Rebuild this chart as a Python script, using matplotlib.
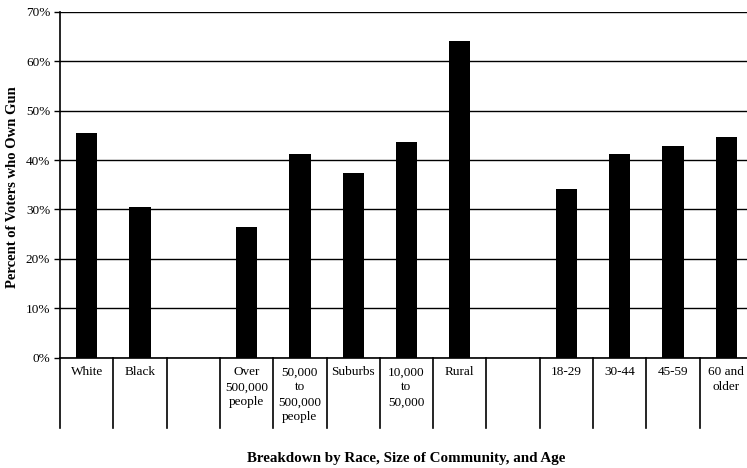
import numpy as np
import matplotlib
matplotlib.use('Agg')
import matplotlib.pyplot as plt
import matplotlib.transforms as mtransforms

plt.rcParams['font.family'] = ['Liberation Serif', 'DejaVu Serif']

categories = ['White', 'Black', '', 'Over\n500,000\npeople', '50,000\nto\n500,000\npeople',
              'Suburbs', '10,000\nto\n50,000', 'Rural', '', '18-29', '30-44', '45-59',
              '60 and\nolder']
values = [45.4, 30.4, np.nan, 26.5, 41.2, 37.3, 43.6, 64.1, np.nan, 34.2, 41.2, 42.8, 44.6]
yticks = [0, 10, 20, 30, 40, 50, 60, 70]

fig = plt.figure(figsize=(7.47, 4.68), dpi=100)
ax = fig.add_axes([60 / 747, (468 - 357.5) / 468, 693 / 747, 345.5 / 468])

x = np.arange(len(categories))
vals = np.array(values, dtype=float)
mask = ~np.isnan(vals)
ax.bar(x[mask], vals[mask], width=0.4, color='black', zorder=3)

ax.set_xlim(-0.5, len(categories) - 0.5)
ax.set_ylim(0, 70)
ax.set_yticks(yticks)
ax.set_yticklabels([f'{v}%' for v in yticks], fontsize=9.5)
ax.set_xticks([])
ax.tick_params(axis='y', direction='out', length=4, width=1, color='black', pad=3)
ax.yaxis.grid(True, color='black', lw=1.0, zorder=1)
ax.set_axisbelow(True)

for s in ['top', 'right']:
    ax.spines[s].set_visible(False)
ax.spines['left'].set_linewidth(1.2)
ax.spines['bottom'].set_linewidth(1.2)

# category "table" under the axis
trans = mtransforms.blended_transform_factory(ax.transData, ax.transAxes)
for k in range(len(categories)):
    ax.plot([k - 0.5, k - 0.5], [0, -0.205], transform=trans, clip_on=False,
            color='black', lw=1.2)
    ax.text(k, -0.026, categories[k], transform=trans, ha='center', va='top',
            fontsize=9.5, linespacing=1.33)

fig.text(13 / 747, 1 - 187 / 468, 'Percent of Voters who Own Gun', rotation=90,
         ha='center', va='center', fontsize=10.5, fontweight='bold')
ax.text(0.5, -0.291, 'Breakdown by Race, Size of Community, and Age', transform=ax.transAxes,
        ha='center', va='center', fontsize=10.8, fontweight='bold')

fig.savefig('out.png', dpi=100)
